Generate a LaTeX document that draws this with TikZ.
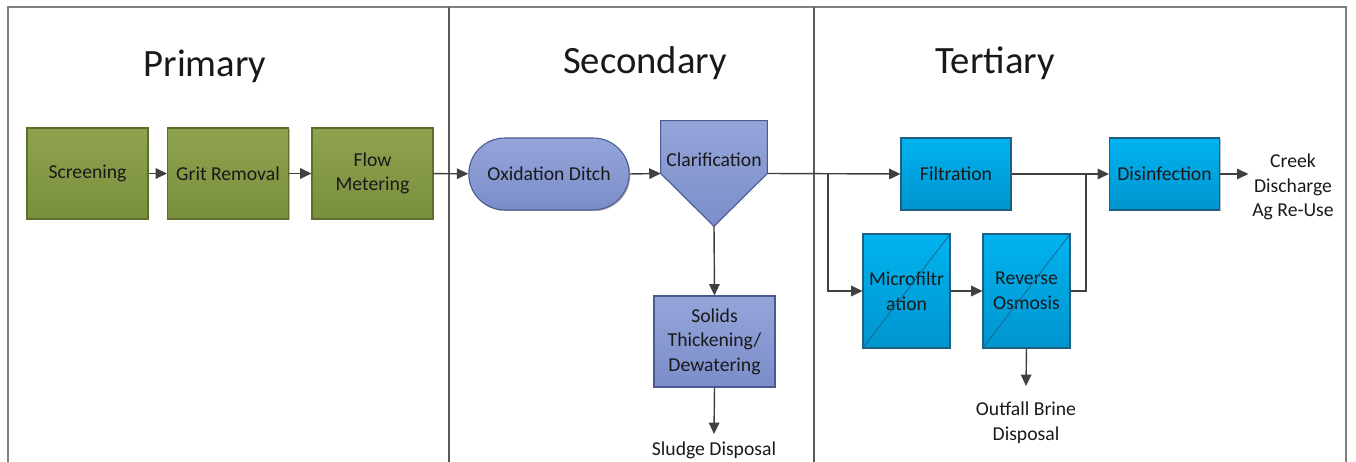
\documentclass[tikz,border=0pt]{standalone}
\usepackage{fontspec}
\setmainfont{Carlito}
\usepackage{tikz}
\usetikzlibrary{arrows.meta, shapes.misc, shadows, calc}
\definecolor{grnT}{HTML}{8EA24F}
\definecolor{grnB}{HTML}{7A8F3C}
\definecolor{grnD}{HTML}{5E6E2E}
\definecolor{pplT}{HTML}{95A5DA}
\definecolor{pplB}{HTML}{7B8DC9}
\definecolor{pplD}{HTML}{4A5A91}
\definecolor{cyaT}{HTML}{00B3EF}
\definecolor{cyaB}{HTML}{0095CF}
\definecolor{cyaD}{HTML}{1F5F80}
\definecolor{lnk}{HTML}{404040}
\tikzset{
  proc/.style={rectangle, line width=0.6pt, align=center,
               font=\fontsize{11.2}{14}\selectfont, text=black!90,
               minimum width=2.42cm, minimum height=1.82cm, inner sep=1pt,
               drop shadow={shadow xshift=0.7pt, shadow yshift=-0.7pt,
                            fill=black, opacity=0.25}},
  prim/.style={proc, draw=grnD, top color=grnT, bottom color=grnB},
  sec/.style={proc, draw=pplD, top color=pplT, bottom color=pplB},
  tert/.style={proc, draw=cyaD, top color=cyaT, bottom color=cyaB,
               minimum width=2.2cm, minimum height=1.44cm},
  memb/.style={tert, minimum width=1.74cm, minimum height=2.28cm},
  endtxt/.style={align=center, font=\fontsize{11.2}{14}\selectfont,
                 text=black!90, inner sep=4pt},
  stage/.style={font=\fontsize{22}{26}\selectfont, text=black!90},
  frame/.style={draw=black!50, line width=0.8pt},
  flow/.style={-{Triangle[length=6.5pt,width=6pt]}, line width=0.8pt, draw=lnk},
  pipe/.style={line width=0.8pt, draw=lnk},
}
\begin{document}
\begin{tikzpicture}[x=0.02cm, y=-0.02cm]
  \useasboundingbox (0,0) rectangle (1356,462);
  % frame and stage separators
  \draw[frame] (8,462) -- (8,7) -- (1346,7) -- (1346,462);
  \draw[frame, draw=black!65] (449,7) -- (449,462);
  \draw[frame, draw=black!65] (814,7) -- (814,462);
  \node[stage] (hPri) at (205,66) {Primary};
  \node[stage] (hSec) at (645,63) {Secondary};
  \node[stage] (hTer) at (995,63) {Tertiary};

  % primary
  \node[prim] (scr)  at (87.5,173.5)  {Screening};
  \node[prim] (grit) at (228,173.5)   {Grit Removal};
  \node[prim] (flow) at (372.5,173.5) {Flow\\Metering};

  % secondary
  \node[sec, rounded rectangle, minimum width=3.28cm, minimum height=1.44cm]
    (oxd) at (549,174) {Oxidation Ditch};
  \node[minimum width=2.12cm, minimum height=2.1cm, inner sep=0pt]
    (clar) at (714,173.5) {};
  \fill[pplD, opacity=0.25, xshift=0.7pt, yshift=-0.7pt]
    (clar.north west) -- (clar.north east) -- (clar.east) -- (clar.south)
    -- (clar.west) -- cycle;
  \draw[line width=0.6pt, draw=pplD, top color=pplT, bottom color=pplB]
    (clar.north west) -- (clar.north east) -- (clar.east) -- (clar.south)
    -- (clar.west) -- cycle;
  \node[endtxt, inner sep=0pt] (clarT) at (714,160) {Clarification};
  \node[sec] (solid) at (714.5,341.5) {Solids\\Thickening/\\Dewatering};
  \node[endtxt, anchor=north] (sludge) at (714,434) {Sludge Disposal};

  % tertiary
  \node[tert] (filt) at (956,174)    {Filtration};
  \node[tert] (dis)  at (1164.5,174) {Disinfection};
  \node[memb] (mf)   at (906.5,291)  {Microfiltr\\ation};
  \node[memb] (ro)   at (1026.5,291) {Reverse\\Osmosis};
  \draw[line width=0.4pt, draw=cyaD] (mf.south west) -- (mf.north east);
  \draw[line width=0.4pt, draw=cyaD] (ro.south west) -- (ro.north east);
  \node[endtxt, inner sep=2pt] (creek) at (1293,187) {Creek\\Discharge\\Ag Re-Use};
  \node[endtxt, inner sep=9pt, anchor=north] (brine) at (1026,386)
    {Outfall Brine\\Disposal};

  % connectors
  \coordinate (br) at (828,174);
  \coordinate (jn) at (1086,174);
  \draw[flow] (scr) -- (grit);
  \draw[flow] (grit) -- (flow);
  \draw[flow] (flow) -- (oxd);
  \draw[flow] (oxd.east) -- (clar.west);
  \draw[flow] (clar.east) -- (filt.west);
  \draw[flow] (clar.south) -- (solid.north);
  \draw[flow] (solid.south) -- (sludge.north);
  \draw[flow] (br) |- (mf.west);
  \draw[flow] (mf) -- (ro);
  \draw[pipe] (ro.east) -| (jn);
  \draw[flow] (filt.east) -- (dis.west);
  \draw[flow] (dis.east) -- (dis.east -| creek.west);
  \draw[flow] (ro.south) -- (brine.north);
\end{tikzpicture}
\end{document}
